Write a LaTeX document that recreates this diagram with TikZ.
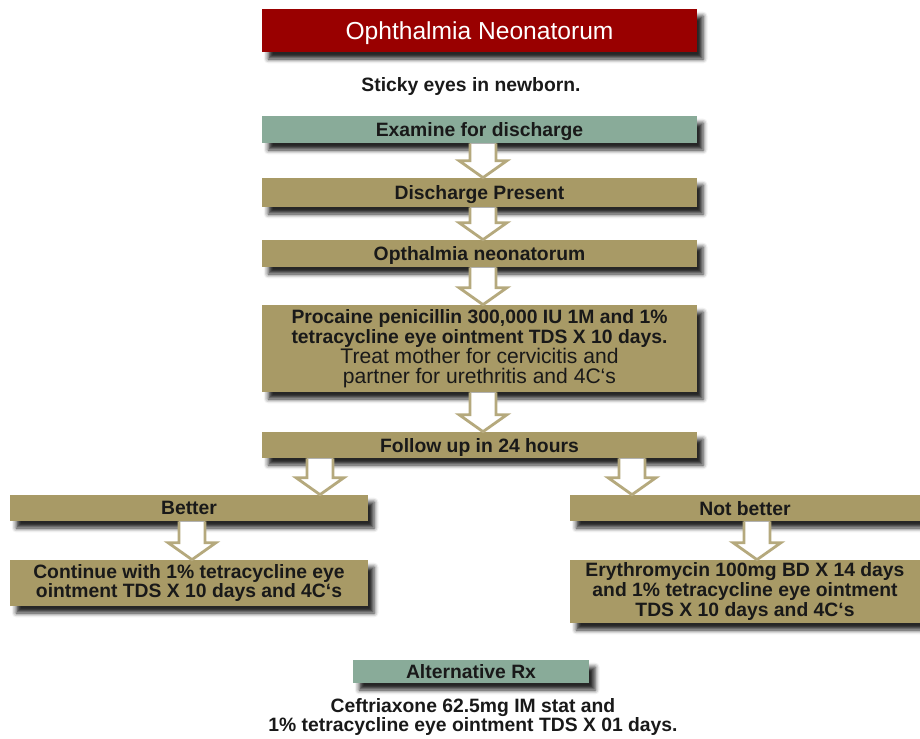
\documentclass[tikz,border=0pt]{standalone}
\usepackage{fontspec}
\setmainfont{Liberation Sans}
\usepackage{tikz}
\usetikzlibrary{calc,shadows.blur}
\definecolor{tanfill}{HTML}{A89A66}
\definecolor{sagefill}{HTML}{89AB99}
\definecolor{titlered}{HTML}{990000}
\tikzset{
  flowbox/.style={rectangle, fill=tanfill, align=center, inner sep=1pt,
    font=\fontsize{11}{11.3}\selectfont\bfseries, text=black!90,
    blur shadow={shadow xshift=3.5pt, shadow yshift=-4pt, shadow blur radius=2.5pt, shadow opacity=85}},
  onebox/.style={flowbox, text depth=0pt},
  keybox/.style={onebox, fill=sagefill},
  titlebox/.style={onebox, fill=titlered, text=white, font=\fontsize{14}{16}\selectfont},
  flowtext/.style={align=center, inner sep=0pt, font=\fontsize{11}{10}\selectfont\bfseries, text=black!90},
  hollowarrow/.style={draw=tanfill!85!white, line width=1.6pt, fill=white, line join=miter},
}
% hollow block arrow: from node, to node, x position
\newcommand{\flowarrow}[3]{%
  \coordinate (fa-top) at (#3,0 |- #1.south);
  \coordinate (fa-tip) at (#3,0 |- #2.north);
  \draw[hollowarrow] ($(fa-top)+(-13,0)$) -- ($(fa-tip)+(-13,-17)$) -- ($(fa-tip)+(-24,-17)$) -- (fa-tip)
    -- ($(fa-tip)+(24,-17)$) -- ($(fa-tip)+(13,-17)$) -- ($(fa-top)+(13,0)$);
}

\begin{document}
\begin{tikzpicture}[x=0.02cm, y=-0.02cm]
  \useasboundingbox (0,0) rectangle (920,738);
  \node[titlebox, minimum width=8.7cm, minimum height=0.86cm] (title) at (479.5,30.5) {Ophthalmia Neonatorum};
  \node[flowtext] (sticky) at (471,86) {Sticky eyes in newborn.};
  \node[keybox, minimum width=8.7cm, minimum height=0.54cm] (exam) at (479.5,129.5) {Examine for discharge};
  \node[onebox, minimum width=8.7cm, minimum height=0.58cm] (disch) at (479.5,192.5) {Discharge Present};
  \node[onebox, minimum width=8.7cm, minimum height=0.54cm] (opth) at (479.5,253.5) {Opthalmia neonatorum};
  \node[flowbox, minimum width=8.7cm, minimum height=1.74cm] (proc) at (479.5,348.5)
    {Procaine penicillin 300,000 IU 1M and 1\%\\
     tetracycline eye ointment TDS X 10 days.\\
     {\mdseries\fontsize{12}{11.3}\selectfont Treat mother for cervicitis and}\\
     {\mdseries\fontsize{12}{11.3}\selectfont partner for urethritis and 4C`s}};
  \node[onebox, minimum width=8.7cm, minimum height=0.52cm] (follow) at (479.5,445) {Follow up in 24 hours};
  % two outcomes
  \node[onebox, minimum width=7.16cm, minimum height=0.52cm] (better) at (189,508) {Better};
  \node[onebox, minimum width=7.0cm, minimum height=0.52cm] (notbetter) at (745,508) {Not better};
  \node[flowbox, minimum width=7.16cm, minimum height=0.92cm] (cont) at (189,583)
    {Continue with 1\% tetracycline eye\\ ointment TDS X 10 days and 4C`s};
  \node[flowbox, minimum width=7.0cm, minimum height=1.26cm] (ery) at (745,591.5)
    {Erythromycin 100mg BD X 14 days\\ and 1\% tetracycline eye ointment\\ TDS X 10 days and 4C`s};
  \node[keybox, minimum width=4.72cm, minimum height=0.46cm] (alt) at (471,671.5) {Alternative Rx};
  \node[flowtext] (ceft) at (473,717)
    {Ceftriaxone 62.5mg IM stat and\\ 1\% tetracycline eye ointment TDS X 01 days.};
  % arrows
  \flowarrow{exam}{disch}{483}
  \flowarrow{disch}{opth}{483}
  \flowarrow{opth}{proc}{483}
  \flowarrow{proc}{follow}{483}
  \flowarrow{follow}{better}{320}
  \flowarrow{follow}{notbetter}{632}
  \flowarrow{better}{cont}{192}
  \flowarrow{notbetter}{ery}{757}
\end{tikzpicture}
\end{document}
